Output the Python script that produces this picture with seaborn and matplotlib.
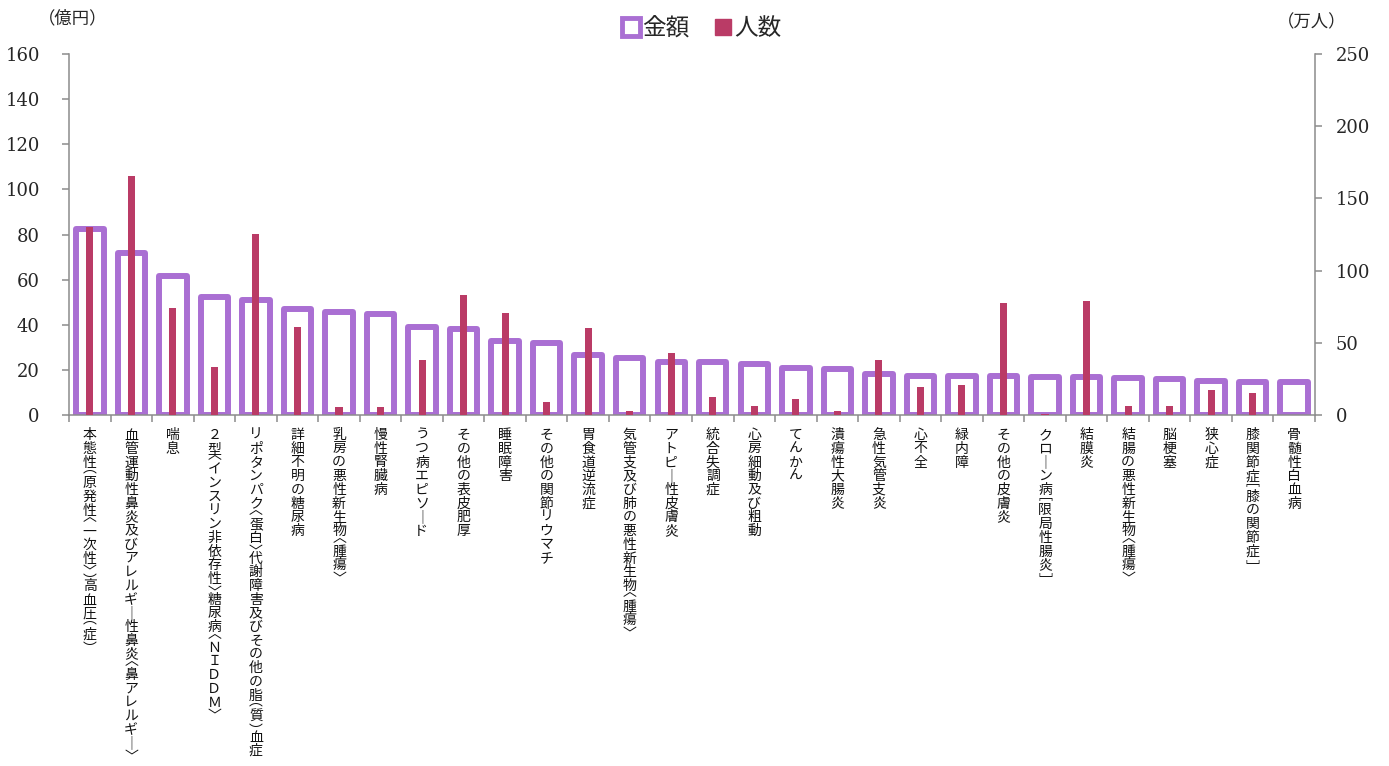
import numpy as np
import pandas as pd
import matplotlib
matplotlib.use("Agg")
import matplotlib.pyplot as plt
from matplotlib.lines import Line2D
from matplotlib.transforms import offset_copy
from matplotlib.textpath import TextPath
from matplotlib.font_manager import FontProperties
import seaborn as sns

categories = [
    "本態性（原発性〈一次性〉）高血圧（症）",
    "血管運動性鼻炎及びアレルギー性鼻炎〈鼻アレルギー〉",
    "喘息",
    "２型〈インスリン非依存性〉糖尿病〈ＮＩＤＤＭ〉",
    "リポタンパク〈蛋白〉代謝障害及びその他の脂（質）血症",
    "詳細不明の糖尿病",
    "乳房の悪性新生物〈腫瘍〉",
    "慢性腎臓病",
    "うつ病エピソード",
    "その他の表皮肥厚",
    "睡眠障害",
    "その他の関節リウマチ",
    "胃食道逆流症",
    "気管支及び肺の悪性新生物〈腫瘍〉",
    "アトピー性皮膚炎",
    "統合失調症",
    "心房細動及び粗動",
    "てんかん",
    "潰瘍性大腸炎",
    "急性気管支炎",
    "心不全",
    "緑内障",
    "その他の皮膚炎",
    "クローン病［限局性腸炎］",
    "結膜炎",
    "結腸の悪性新生物〈腫瘍〉",
    "脳梗塞",
    "狭心症",
    "膝関節症［膝の関節症］",
    "骨髄性白血病",
]
amount = [82.4, 71.8, 61.6, 52.3, 50.8, 47.0, 45.7, 44.8, 39.2, 38.1,
          33.0, 31.9, 26.4, 25.3, 23.7, 23.5, 22.6, 21.0, 20.2, 18.2,
          17.5, 17.5, 17.3, 16.8, 16.8, 16.4, 16.0, 15.1, 14.6, 14.6]
people = [130.0, 165.5, 74.3, 33.0, 125.3, 61.2, 5.5, 5.3, 38.1, 83.1,
          70.4, 8.8, 60.2, 3.0, 42.9, 12.7, 6.0, 10.9, 2.8, 38.1,
          19.2, 21.0, 77.3, 0.8, 79.2, 6.0, 6.4, 17.3, 15.2, 0.3]
left_ticks = [0, 20, 40, 60, 80, 100, 120, 140, 160]
right_ticks = [0, 50, 100, 150, 200, 250]

PURPLE = "#AA6FD3"
RED = "#BA3B66"
GRAY = "#8C8C8C"

# vertical-writing presentation forms; brackets take half a cell
VMAP = {"（": "︵", "）": "︶", "〈": "︿", "〉": "﹀", "［": "﹇", "］": "﹈", "ー": "｜"}
HALF = set("（）〈〉［］")

df = pd.DataFrame({"cat": categories, "amount": amount, "people": people})

sns.set_theme(style="white")
plt.rcParams["font.family"] = ["Noto Sans CJK JP", "DejaVu Sans"]

DPI = 100
fig = plt.figure(figsize=(13.89, 7.66), dpi=DPI)
ax = fig.add_axes([0.0497, 0.4582, 0.8970, 0.4713])
ax2 = ax.twinx()

sns.barplot(data=df, x="cat", y="amount", ax=ax, color="white", edgecolor=PURPLE,
            linewidth=4.3, width=0.66, saturation=1, errorbar=None, zorder=2)
for p in ax.patches:
    p.set_joinstyle("round")

sns.barplot(data=df, x="cat", y="people", ax=ax2, color=RED, width=0.17,
            saturation=1, errorbar=None, linewidth=0, zorder=3)

ax.set_xlim(-0.5, len(categories) - 0.5)
ax.set_ylim(0, 160)
ax2.set_ylim(0, 250)
ax.set_yticks(left_ticks)
ax2.set_yticks(right_ticks)
for a in (ax, ax2):
    a.set_xlabel("")
    a.set_ylabel("")

ax.set_xticks(range(len(categories)))
ax.set_xticklabels([""] * len(categories))
ax.set_xticks(np.arange(-0.5, len(categories), 1), minor=True)
ax.tick_params(axis="x", which="major", length=0)
ax.tick_params(axis="x", which="minor", length=5, width=1.1, color=GRAY,
               direction="out", bottom=True)

# vertical (tategaki) category labels, one character at a time, ink-centred
FS = 10
FULL_PX = 13.7
HALF_PX = 7.0
TOP_PX = 12.0
fprop = FontProperties(family=["Noto Sans CJK JP", "DejaVu Sans"], size=FS)
_ext = {}


def ink_center(ch):
    if ch not in _ext:
        b = TextPath((0, 0), ch, size=FS, prop=fprop).get_extents()
        _ext[ch] = ((b.x0 + b.x1) / 2.0, (b.y0 + b.y1) / 2.0)
    return _ext[ch]


base_tr = ax.get_xaxis_transform()
for i, cat in enumerate(categories):
    cursor = TOP_PX
    for ch in cat:
        adv = HALF_PX if ch in HALF else FULL_PX
        g = VMAP.get(ch, ch)
        cx, cy = ink_center(g)
        center_pt = (cursor + adv / 2.0) * 72.0 / DPI
        tr = offset_copy(base_tr, fig=fig, x=-cx, y=-center_pt - cy, units="points")
        ax.text(i, 0, g, transform=tr, fontproperties=fprop,
                ha="left", va="baseline", clip_on=False, color="#111111")
        cursor += adv

serif = "DejaVu Serif"
ax.tick_params(axis="y", length=5, width=1.1, color=GRAY, direction="out",
               left=True, pad=16)
ax2.tick_params(axis="y", length=5, width=1.1, color=GRAY, direction="out",
                right=True, pad=10)
for lab in ax.get_yticklabels() + ax2.get_yticklabels():
    lab.set_fontfamily(serif)
    lab.set_fontsize(13)

for a in (ax, ax2):
    a.grid(False)
    a.spines["top"].set_visible(False)
    for s in ("left", "right", "bottom"):
        a.spines[s].set_color(GRAY)
        a.spines[s].set_linewidth(1.1)
ax.spines["right"].set_visible(False)
ax2.spines["left"].set_visible(False)
ax2.spines["bottom"].set_visible(False)

fig.text(0.0526, 0.976, "（億円）", fontsize=12.5, ha="center", va="center")
fig.text(0.944, 0.971, "（万人）", fontsize=12.5, ha="center", va="center")

handles = [
    Line2D([], [], linestyle="none", marker="s", markersize=13,
           markerfacecolor="white", markeredgecolor=PURPLE, markeredgewidth=3.5),
    Line2D([], [], linestyle="none", marker="s", markersize=11,
           markerfacecolor=RED, markeredgecolor=RED),
]
fig.legend(handles, ["金額", "人数"], loc="center", bbox_to_anchor=(0.505, 0.963),
           ncol=2, frameon=False, fontsize=17, handlelength=0.8,
           handletextpad=0.1, columnspacing=1.0)

fig.savefig("out.png", dpi=DPI)
